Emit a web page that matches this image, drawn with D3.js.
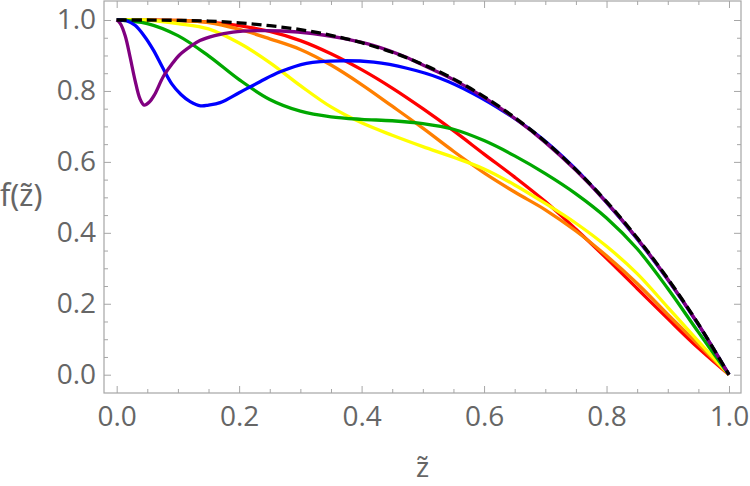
<!DOCTYPE html>
<html>
<head>
<meta charset="utf-8">
<script src="https://cdn.jsdelivr.net/npm/d3@7"></script>
<style>
  html, body { margin: 0; padding: 0; background: #fff; }
  svg { display: block; }
</style>
</head>
<body>
<svg id="chart" width="750" height="486"></svg>
<script>
// ---------- data ----------
const xMajorTicks = [0, 0.2, 0.4, 0.6, 0.8, 1.0];
const yMajorTicks = [0, 0.2, 0.4, 0.6, 0.8, 1.0];
const tickLabels = ["0.0", "0.2", "0.4", "0.6", "0.8", "1.0"];
const minorStep = 0.05;

// common grid for the smooth curves
const zGrid = [0,0.05,0.1,0.15,0.2,0.25,0.3,0.35,0.4,0.45,0.5,0.55,0.6,0.65,0.7,0.75,0.8,0.85,0.9,0.95,1];

const fBlack  = [1,1,0.999,0.997,0.992,0.984,0.973,0.957,0.936,0.909,0.875,0.834,0.784,0.725,0.657,0.578,0.488,0.386,0.271,0.143,0];
const fRed    = [1,1,0.999,0.994,0.984,0.968,0.942,0.905,0.86,0.808,0.75,0.688,0.622,0.557,0.488,0.41,0.328,0.243,0.158,0.075,0];
const fOrange = [1,1,0.999,0.993,0.974,0.947,0.917,0.873,0.818,0.757,0.695,0.63,0.569,0.515,0.465,0.405,0.335,0.257,0.17,0.085,0];
const fYellow = [1,1,0.99,0.975,0.935,0.88,0.815,0.755,0.71,0.675,0.643,0.613,0.58,0.535,0.483,0.427,0.362,0.285,0.19,0.094,0];
const fGreen  = [1,0.99,0.956,0.899,0.832,0.776,0.743,0.727,0.72,0.716,0.708,0.692,0.66,0.617,0.567,0.51,0.442,0.355,0.243,0.12,0];

// curves with sharp dips near the origin need their own, finer sampling
const zPurple = [0,0.006,0.014,0.022,0.03,0.038,0.045,0.053,0.062,0.076,0.09,0.103,0.12,0.136,0.16,0.19,0.23,0.27,0.32,0.37,0.42,0.47,0.5,0.55,0.6,0.65,0.7,0.75,0.8,0.85,0.9,0.95,1];
const fPurple = [1,0.99,0.955,0.895,0.83,0.778,0.76,0.768,0.79,0.84,0.875,0.902,0.925,0.942,0.956,0.966,0.97,0.969,0.962,0.948,0.928,0.897,0.873,0.832,0.782,0.723,0.655,0.576,0.486,0.384,0.269,0.142,0];

const zBlue = [0,0.016,0.03,0.045,0.06,0.075,0.09,0.105,0.12,0.137,0.15,0.169,0.2,0.234,0.267,0.31,0.365,0.42,0.474,0.528,0.582,0.637,0.691,0.746,0.8,0.85,0.9,0.95,1];
const fBlue = [1,0.998,0.985,0.955,0.915,0.866,0.82,0.79,0.77,0.758,0.76,0.767,0.795,0.826,0.854,0.878,0.885,0.881,0.864,0.836,0.793,0.737,0.671,0.586,0.486,0.383,0.268,0.141,0];

const seriesNames = ["red","orange","yellow","green","blue","purple","black"];
const seriesColors = ["#ff0000","#ff7f00","#ffff00","#00a800","#0000ff","#800080","#000000"];
const seriesZ = [zGrid, zGrid, zGrid, zGrid, zBlue, zPurple, zGrid];
const seriesF = [fRed, fOrange, fYellow, fGreen, fBlue, fPurple, fBlack];

// ---------- layout ----------
const frame = { left: 104, right: 741, top: 1, bottom: 393 };
const xDomain = [-0.0207, 1.0196];
const yDomain = [-0.0516, 1.0536];

const svg = d3.select("#chart");
const x = d3.scaleLinear().domain(xDomain).range([frame.left, frame.right]);
const y = d3.scaleLinear().domain(yDomain).range([frame.bottom, frame.top]);

const minorVals = d3.range(0, 1.0001, minorStep).filter(v => Math.abs(Math.round(v*5) - v*5) > 1e-6);

const frameColor = "#a6a6a6";
const labelColor = "#666666";
const fontFam = "'Open Sans', 'Liberation Sans', sans-serif";
const fontSize = "28px";

svg.append("defs").append("clipPath").attr("id","clip")
  .append("rect").attr("x", frame.left).attr("y", frame.top)
  .attr("width", frame.right - frame.left).attr("height", frame.bottom - frame.top);

// curves
const line = d3.line().x(d => x(d[0])).y(d => y(d[1])).curve(d3.curveCatmullRom.alpha(0.5));
const g = svg.append("g").attr("clip-path","url(#clip)");
seriesNames.forEach((name, i) => {
  const pts = seriesZ[i].map((z, j) => [z, seriesF[i][j]]);
  g.append("path").datum(pts)
    .attr("d", line)
    .attr("fill","none")
    .attr("stroke", seriesColors[i])
    .attr("stroke-width", 3.3)
    .attr("stroke-linejoin","round")
    .attr("stroke-dasharray", name === "black" ? "10,5" : null);
});

function styleAxis(sel) {
  sel.select(".domain").remove();
  sel.selectAll(".tick line").attr("stroke", frameColor).attr("stroke-width", 1);
  sel.selectAll(".tick text").attr("fill", labelColor)
     .style("font-family", fontFam).style("font-size", fontSize);
}
const MAJ = 7, MIN = 4;

svg.append("g").attr("transform", `translate(0,${frame.bottom})`)
  .call(d3.axisBottom(x).tickValues(xMajorTicks).tickSize(-MAJ).tickPadding(13)
        .tickFormat((d,i) => tickLabels[i])).call(styleAxis);
svg.append("g").attr("transform", `translate(0,${frame.bottom})`)
  .call(d3.axisBottom(x).tickValues(minorVals).tickSize(-MIN).tickFormat("")).call(styleAxis);
svg.append("g").attr("transform", `translate(0,${frame.top})`)
  .call(d3.axisTop(x).tickValues(xMajorTicks).tickSize(-MAJ).tickFormat("")).call(styleAxis);
svg.append("g").attr("transform", `translate(0,${frame.top})`)
  .call(d3.axisTop(x).tickValues(minorVals).tickSize(-MIN).tickFormat("")).call(styleAxis);
svg.append("g").attr("transform", `translate(${frame.left},0)`)
  .call(d3.axisLeft(y).tickValues(yMajorTicks).tickSize(-MAJ).tickPadding(8)
        .tickFormat((d,i) => tickLabels[i])).call(styleAxis);
svg.append("g").attr("transform", `translate(${frame.left},0)`)
  .call(d3.axisLeft(y).tickValues(minorVals).tickSize(-MIN).tickFormat("")).call(styleAxis);
svg.append("g").attr("transform", `translate(${frame.right},0)`)
  .call(d3.axisRight(y).tickValues(yMajorTicks).tickSize(-MAJ).tickFormat("")).call(styleAxis);
svg.append("g").attr("transform", `translate(${frame.right},0)`)
  .call(d3.axisRight(y).tickValues(minorVals).tickSize(-MIN).tickFormat("")).call(styleAxis);

svg.append("rect").attr("x", frame.left).attr("y", frame.top)
  .attr("width", frame.right - frame.left).attr("height", frame.bottom - frame.top)
  .attr("fill","none").attr("stroke", frameColor).attr("stroke-width", 1.2);

// axis labels
svg.append("text").attr("x", (frame.left + frame.right)/2).attr("y", 477)
  .attr("text-anchor","middle").attr("fill", labelColor)
  .style("font-family", "'Noto Sans', 'DejaVu Sans', sans-serif").style("font-size", "28px")
  .text("z\u0303");
svg.append("text").attr("x", 0).attr("y", 206)
  .attr("text-anchor","start").attr("fill", labelColor)
  .style("font-family", "'Noto Sans', 'DejaVu Sans', sans-serif").style("font-size", "30px")
  .text("f(z\u0303)");
</script>
</body>
</html>
